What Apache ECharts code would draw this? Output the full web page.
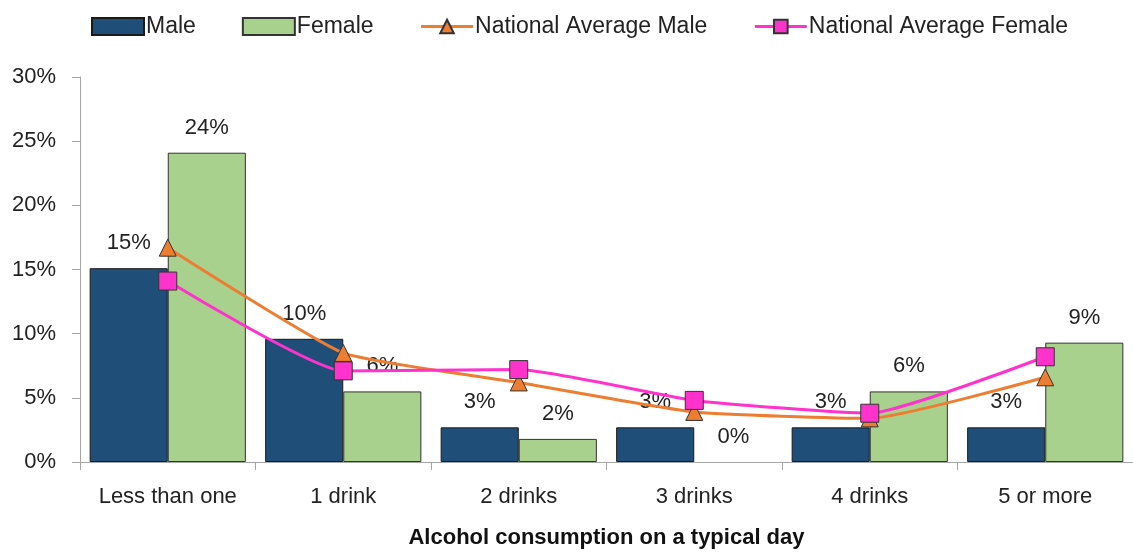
<!DOCTYPE html>
<html>
<head>
<meta charset="utf-8">
<script src="https://cdn.jsdelivr.net/npm/echarts@6/dist/echarts.min.js"></script>
<style>
  html, body { margin: 0; padding: 0; background: #fff; }
  #chart { width: 1133px; height: 552px; }
</style>
</head>
<body>
<div id="chart"></div>
<script>
const categories = ['Less than one', '1 drink', '2 drinks', '3 drinks', '4 drinks', '5 or more']
const male = [15.1, 9.6, 2.7, 2.7, 2.7, 2.7]
const female = [24.1, 5.5, 1.8, 0, 5.5, 9.3]
const natAvgMale = [16.7, 8.5, 6.2, 3.9, 3.4, 6.6]
const natAvgFemale = [14.1, 7.1, 7.2, 4.8, 3.8, 8.2]
const yTicks = [0, 5, 10, 15, 20, 25, 30]

const font = "'Liberation Sans', Arial, sans-serif"
const chart = echarts.init(document.getElementById('chart'))

const barLabel = {
  show: true,
  position: 'top',
  distance: 14,
  fontFamily: font,
  fontSize: 22,
  color: '#222',
  formatter: p => Math.round(p.value) + '%'
}

// zero-height bars get no outline (Excel draws nothing there)
const barData = arr => arr.map(v => (v === 0 ? { value: v, itemStyle: { borderWidth: 0 } } : v))

chart.setOption({
  animation: false,
  textStyle: { fontFamily: font },
  legend: {
    top: 10,
    left: 86,
    itemWidth: 52,
    itemHeight: 17,
    itemGap: 46,
    lineStyle: { width: 3 },
    textStyle: { fontSize: 23, color: '#222', fontFamily: font, padding: [0, 0, 0, -3] },
    data: [
      { name: 'Male', icon: 'rect' },
      { name: 'Female', icon: 'rect' },
      { name: 'National Average Male' },
      { name: 'National Average Female' }
    ]
  },
  grid: { left: 80, right: 0, top: 77, bottom: 90, outerBoundsMode: 'none' },
  xAxis: {
    type: 'category',
    data: categories,
    name: 'Alcohol consumption on a typical day',
    nameLocation: 'middle',
    nameGap: 65,
    nameTextStyle: { fontSize: 22, fontWeight: 'bold', color: '#111', fontFamily: font },
    axisLine: { lineStyle: { color: '#a6a6a6', width: 1 } },
    axisTick: { show: true, interval: 0, length: 8, lineStyle: { color: '#a6a6a6' } },
    axisLabel: { interval: 0, fontSize: 22, color: '#222', margin: 24, fontFamily: font }
  },
  yAxis: {
    type: 'value',
    min: yTicks[0],
    max: yTicks[yTicks.length - 1],
    interval: 5,
    splitLine: { show: false },
    axisLine: { show: true, lineStyle: { color: '#a6a6a6', width: 1 } },
    axisTick: { show: true, length: 8, lineStyle: { color: '#a6a6a6' } },
    axisLabel: { fontSize: 22, color: '#222', margin: 24, fontFamily: font, formatter: '{value}%' }
  },
  series: [
    {
      name: 'Male',
      type: 'bar',
      data: barData(male),
      barGap: '0%',
      barCategoryGap: '11%',
      itemStyle: { color: '#1f4e79', borderColor: '#1a1a1a', borderWidth: 1 },
      label: barLabel
    },
    {
      name: 'Female',
      type: 'bar',
      data: barData(female),
      itemStyle: { color: '#a9d18e', borderColor: '#333', borderWidth: 1 },
      label: barLabel
    },
    {
      name: 'National Average Male',
      type: 'line',
      data: natAvgMale,
      smooth: 0.15,
      symbol: 'triangle',
      symbolSize: 17,
      lineStyle: { color: '#ed7d31', width: 3 },
      itemStyle: { color: '#ed7d31', borderColor: '#333', borderWidth: 1 },
      z: 5
    },
    {
      name: 'National Average Female',
      type: 'line',
      data: natAvgFemale,
      smooth: 0.15,
      symbol: 'rect',
      symbolSize: 18,
      lineStyle: { color: '#ff33cc', width: 3 },
      itemStyle: { color: '#ff33cc', borderColor: '#333', borderWidth: 1 },
      z: 6
    }
  ]
})
window.addEventListener('resize', () => chart.resize())
</script>
</body>
</html>
